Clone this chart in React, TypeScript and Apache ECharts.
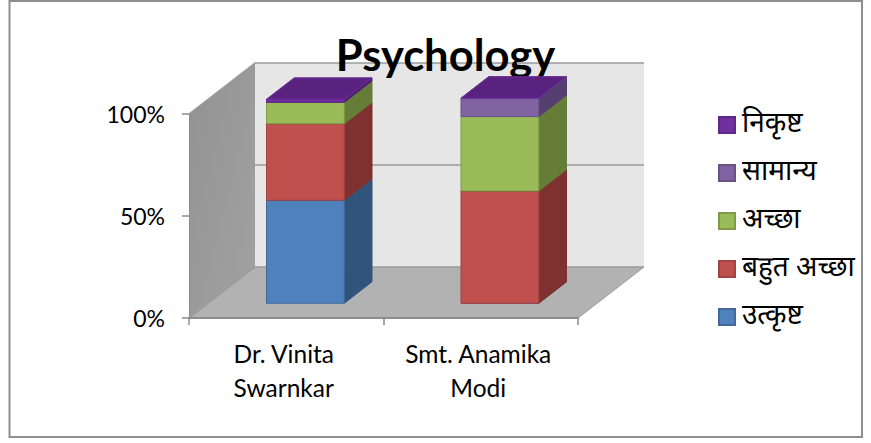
import React, { useEffect, useRef } from "react";
import * as echarts from "echarts";

const title = "Psychology";
const categories = ["Dr. Vinita\nSwarnkar", "Smt. Anamika\nModi"];
const seriesNames = ["उत्कृष्ट", "बहुत अच्छा", "अच्छा", "सामान्य", "निकृष्ट"];
const excellent = [50.5, 0];
const veryGood = [37.5, 55];
const good = [10.5, 36.5];
const average = [0, 9];
const poor = [1.5, 0];
const yTicks = [0, 50, 100];
const frontColors = ["#4f81bd", "#c0504d", "#9bbb59", "#8064a2", "#7030a0"];
const sideColors = ["#31547c", "#7f312f", "#667d38", "#553f6e", "#4d2170"];
const edgeColors = ["#42699a", "#a04341", "#7f9a48", "#6a5287", "#5f2888"];

const DEPTH_X = 66;
const DEPTH_Y = -51;
const BAR_NEAR = 0.29;
const BAR_FAR = 0.71;
const FONT = "Lato, Carlito, sans-serif";
const HINDI = "'Noto Sans Devanagari', 'Lohit Devanagari', 'Noto Sans', Lato, sans-serif";

const allValues = [excellent, veryGood, good, average, poor];

function renderWalls(_p: any, api: any) {
  const x0 = api.coord([0, 0]);
  const [, y0] = api.coord([0, 0]);
  const [, y100] = api.coord([0, 100]);
  const size = api.size([1, 0])[0];
  const left = x0[0] - size / 2;
  const right = left + size * categories.length;
  const gridColor = "#9a9a9a";
  const children: any[] = [
    {
      type: "polygon",
      shape: { points: [[left + DEPTH_X, y0 + DEPTH_Y], [right + DEPTH_X, y0 + DEPTH_Y], [right + DEPTH_X, y100 + DEPTH_Y], [left + DEPTH_X, y100 + DEPTH_Y]] },
      style: { fill: "#e6e6e6" },
    },
    {
      type: "polygon",
      shape: { points: [[left, y0], [left + DEPTH_X, y0 + DEPTH_Y], [left + DEPTH_X, y100 + DEPTH_Y], [left, y100]] },
      style: {
        fill: new echarts.graphic.LinearGradient(0, 0, 1, 1, [
          { offset: 0, color: "#929292" },
          { offset: 1, color: "#a2a2a2" },
        ]),
      },
    },
    {
      type: "polygon",
      shape: { points: [[left, y0], [right, y0], [right + DEPTH_X, y0 + DEPTH_Y], [left + DEPTH_X, y0 + DEPTH_Y]] },
      style: { fill: "#b2b2b2" },
    },
  ];
  yTicks.forEach((t) => {
    const y = api.coord([0, t])[1];
    children.push({
      type: "polyline",
      shape: { points: [[left, y], [left + DEPTH_X, y + DEPTH_Y], [right + DEPTH_X, y + DEPTH_Y]] },
      style: { stroke: gridColor, lineWidth: 1.5, fill: "none" },
    });
  });
  children.push({
    type: "polyline",
    shape: { points: [[right, y0], [right + DEPTH_X, y0 + DEPTH_Y]] },
    style: { stroke: gridColor, lineWidth: 1, fill: "none" },
  });
  return { type: "group", children };
}

function renderBarPart(idx: number) {
  return (_p: any, api: any) => {
    const cat = api.value(0);
    const base = api.value(1);
    const top = api.value(2);
    const size = api.size([1, 0])[0];
    const w = size * 0.4;
    const c = api.coord([cat, base]);
    const d = api.coord([cat, top]);
    const nx = DEPTH_X * BAR_NEAR;
    const ny = DEPTH_Y * BAR_NEAR;
    const fx = DEPTH_X * BAR_FAR;
    const fy = DEPTH_Y * BAR_FAR;
    const l = c[0] - w / 2;
    const r = c[0] + w / 2;
    const yB = c[1];
    const yT = d[1];
    const edge = { stroke: edgeColors[idx], lineWidth: 1 };
    const children: any[] = [];
    if (top > base) {
      children.push({
        type: "polygon",
        shape: { points: [[r + nx, yB + ny], [r + fx, yB + fy], [r + fx, yT + fy], [r + nx, yT + ny]] },
        style: { fill: sideColors[idx], ...edge, stroke: sideColors[idx] },
      });
      children.push({
        type: "polygon",
        shape: { points: [[l + nx, yB + ny], [r + nx, yB + ny], [r + nx, yT + ny], [l + nx, yT + ny]] },
        style: { fill: frontColors[idx], ...edge },
      });
    }
    children.push({
      type: "polygon",
      shape: { points: [[l + nx, yT + ny], [r + nx, yT + ny], [r + fx, yT + fy], [l + fx, yT + fy]] },
      style: { fill: idx === 4 ? "#59227f" : sideColors[idx], stroke: idx === 4 ? "#7030a0" : sideColors[idx], lineWidth: 1 },
    });
    return { type: "group", children };
  };
}

function stackRows(idx: number) {
  return categories.map((_, c) => {
    let base = 0;
    for (let i = 0; i < idx; i++) base += allValues[i][c];
    return [c, base, base + allValues[idx][c]];
  });
}

export default function App() {
  const ref = useRef<HTMLDivElement>(null);
  useEffect(() => {
    document.body.style.margin = "0";
    const chart = echarts.init(ref.current!, undefined, { renderer: "svg" });
    const barSeries = seriesNames.map((name, idx) => ({
      name,
      type: "custom",
      renderItem: renderBarPart(idx),
      data: stackRows(idx),
      encode: { x: 0, y: [1, 2] },
      itemStyle: { color: frontColors[idx], borderColor: edgeColors[idx], borderWidth: 1 },
      z: 3 + idx,
    }));
    chart.setOption({
      animation: false,
      backgroundColor: "#ffffff",
      title: {
        text: title,
        left: 440.5,
        top: 27,
        textAlign: "center",
        textStyle: { fontFamily: FONT, fontSize: 43.5, fontWeight: "bold", color: "#000000" },
      },
      graphic: [
        {
          type: "rect",
          silent: true,
          z: -1,
          shape: { x: 9.5, y: 1, width: 852.5, height: 436 },
          style: { fill: "none", stroke: "#8e8e8e", lineWidth: 2 },
        },
      ],
      legend: {
        orient: "vertical",
        left: 713,
        top: 105,
        itemWidth: 16,
        itemHeight: 16,
        itemGap: 18,
        icon: "rect",
        data: [...seriesNames].reverse(),
        textStyle: { fontFamily: HINDI, fontSize: 28, color: "#000000", lineHeight: 30, padding: [0, 0, 0, 2] },
      },
      grid: { left: 189, top: 114, width: 389, height: 204 },
      xAxis: {
        type: "category",
        data: categories,
        z: 8,
        axisLine: { show: true, lineStyle: { color: "#8c8c8c", width: 2 } },
        axisTick: { show: true, alignWithLabel: false, length: 7, lineStyle: { color: "#8c8c8c", width: 1.5 } },
        axisLabel: { fontFamily: FONT, fontSize: 24.5, color: "#000000", lineHeight: 34, margin: 18, interval: 0, padding: [0, 5, 0, 0] },
      },
      yAxis: {
        type: "value",
        min: 0,
        max: 100,
        interval: 50,
        z: 8,
        axisLine: { show: true, lineStyle: { color: "#8c8c8c", width: 1 } },
        axisTick: { show: true, length: 7, lineStyle: { color: "#8c8c8c", width: 1.5 } },
        axisLabel: { fontFamily: FONT, fontSize: 23, color: "#000000", margin: 24, formatter: "{value}%" },
        splitLine: { show: false },
      },
      series: [
        {
          type: "custom",
          name: "walls",
          renderItem: renderWalls,
          data: [[0, 0, 100]],
          encode: { x: 0, y: [1, 2] },
          silent: true,
          z: 1,
        },
        ...barSeries,
      ],
    });
    return () => chart.dispose();
  }, []);
  return <div ref={ref} style={{ width: 871, height: 443 }} />;
}
